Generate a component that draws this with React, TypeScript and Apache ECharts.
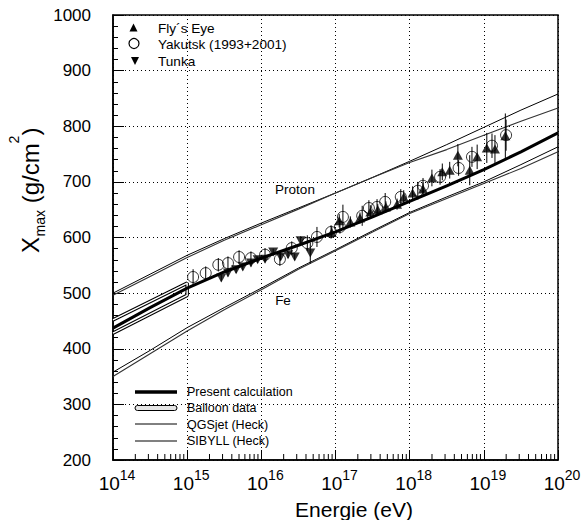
import React, { useEffect, useRef } from "react";
import * as echarts from "echarts";

const FONT = "'Liberation Sans', Arial, Helvetica, sans-serif";

// ---- model curves (x = log10(E/eV), y = Xmax in g/cm^2) ----
const modelLogE = [14, 14.5, 15, 15.5, 16, 16.5, 17, 17.5, 18, 18.5, 19, 19.5, 20];
const presentCalc = [437, 474, 509, 538, 563, 586, 610, 637, 665, 693, 722, 754, 788];
const protonQGSjet = [500, 534, 568, 598, 626, 653, 680, 708, 737, 767, 798, 829, 858];
const protonSIBYLL = [496, 530, 564, 595, 623, 651, 680, 708, 735, 758, 784, 809, 833];
const feQGSjet = [358, 397, 438, 474, 509, 545, 578, 612, 645, 673, 700, 731, 763];
const feSIBYLL = [350, 391, 432, 470, 506, 543, 576, 610, 643, 670, 697, 724, 754];

// ---- balloon data band (outline) ----
const balloonLogE = [14, 15, 15, 14];
const balloonX = [428, 496, 518, 452];

// ---- measurements ----
const flyLogE = [16.95, 17.05, 17.2, 17.33, 17.47, 17.57, 17.68, 17.83, 17.92, 18.04, 18.18, 18.3, 18.44, 18.54, 18.65, 18.81, 18.91, 19.04, 19.15, 19.29];
const flyX = [609, 630, 628, 635, 646, 650, 655, 660, 673, 680, 687, 707, 718, 721, 748, 721, 745, 761, 759, 783];
const flyErr = [10, 12, 10, 10, 12, 10, 10, 10, 12, 12, 12, 15, 15, 15, 20, 27, 22, 27, 25, 40];

const yakLogE = [15.08, 15.25, 15.42, 15.55, 15.7, 15.86, 16.05, 16.25, 16.41, 16.62, 16.75, 16.94, 17.06, 17.1, 17.36, 17.45, 17.56, 17.67, 17.88, 18.11, 18.18, 18.41, 18.66, 18.84, 19.11, 19.3];
const yakX = [529, 536, 551, 554, 565, 563, 569, 561, 581, 590, 601, 610, 619, 637, 639, 653, 655, 664, 673, 684, 693, 709, 725, 745, 765, 784];
const yakErr = [14, 12, 12, 12, 12, 12, 12, 12, 12, 14, 18, 12, 12, 22, 18, 14, 14, 16, 14, 16, 14, 14, 14, 18, 22, 28];

const tunkaLogE = [15.46, 15.55, 15.66, 15.75, 15.86, 15.95, 16.05, 16.16, 16.26, 16.36, 16.45, 16.53, 16.66];
const tunkaX = [527, 536, 542, 547, 554, 560, 561, 574, 565, 569, 565, 594, 572];
const tunkaErr = [6, 6, 6, 6, 6, 6, 6, 6, 6, 6, 6, 8, 19];

// ---- axes ----
const xDecades = [14, 15, 16, 17, 18, 19];
const minorMultipliers = [2, 3, 4, 5, 6, 7, 8, 9];
const yMin = 200;
const yMax = 1000;

const pairs = (xs: number[], ys: number[]) => xs.map((x, i) => [x, ys[i]]);
const errData = (xs: number[], ys: number[], es: number[]) =>
  xs.map((x, i) => [x, ys[i] - es[i], ys[i] + es[i]]);

const errorSeries = (data: number[][]) => ({
  type: "custom",
  data,
  z: 4,
  silent: true,
  encode: { x: 0, y: [1, 2] },
  renderItem: (_p: any, api: any) => {
    const lo = api.coord([api.value(0), api.value(1)]);
    const hi = api.coord([api.value(0), api.value(2)]);
    return {
      type: "line",
      shape: { x1: lo[0], y1: lo[1], x2: hi[0], y2: hi[1] },
      style: { stroke: "#000", lineWidth: 1 },
    };
  },
});

const modelLine = (name: string, ys: number[], color: string, width: number, z = 3) => ({
  type: "line",
  name,
  data: pairs(modelLogE, ys),
  showSymbol: false,
  symbol: "none",
  smooth: false,
  lineStyle: { color, width, join: "round" },
  z,
  silent: true,
});

const legendText = (x: number, y: number, text: string, size: number) => ({
  type: "text",
  x,
  y,
  style: { text, font: `${size}px ${FONT}`, fill: "#000", align: "left", verticalAlign: "middle" },
});

// piece of rotated axis title: local x along text, baseline offset in local y
const titlePiece = (text: string, x: number, baseline: number, size: number) => ({
  type: "text",
  x,
  y: baseline - 0.35 * size,
  style: { text, font: `${size}px ${FONT}`, fill: "#000", align: "left", verticalAlign: "middle" },
});

export default function App() {
  const ref = useRef<HTMLDivElement>(null);

  useEffect(() => {
    if (!ref.current) return;
    const chart = echarts.init(ref.current, undefined, { renderer: "svg" });

    const minorTicks: number[][] = [];
    xDecades.forEach((d) => minorMultipliers.forEach((m) => minorTicks.push([d + Math.log10(m), yMin])));

    const option: any = {
      animation: false,
      backgroundColor: "#fff",
      grid: {
        left: 113,
        right: 26,
        top: 15,
        bottom: 60,
        show: true,
        borderColor: "#000",
        borderWidth: 1.5,
        backgroundColor: "transparent",
      },
      xAxis: {
        type: "value",
        min: 14,
        max: 20,
        interval: 1,
        axisLine: { onZero: false, lineStyle: { color: "#000", width: 1.5 } },
        axisTick: { inside: true, length: 10, lineStyle: { color: "#000", width: 1 } },
        splitLine: { show: true, lineStyle: { color: "#000", width: 1, type: [1, 3] } },
        axisLabel: {
          margin: 8,
          showMinLabel: true,
          showMaxLabel: true,
          formatter: (v: number) => `{p|}{b|10}{s|${v}}`,
          rich: {
            p: { width: 8, lineHeight: 25 },
            b: { fontSize: 19, fontFamily: FONT, color: "#000", lineHeight: 19, verticalAlign: "bottom" },
            s: { fontSize: 14, fontFamily: FONT, color: "#000", lineHeight: 14, verticalAlign: "top" },
          },
        },
      },
      yAxis: {
        type: "value",
        min: yMin,
        max: yMax,
        interval: 100,
        axisLine: { lineStyle: { color: "#000", width: 1.5 } },
        axisTick: { inside: true, length: 11, lineStyle: { color: "#000", width: 1 } },
        minorTick: { show: true, splitNumber: 5, length: 5, lineStyle: { color: "#000", width: 1 } },
        splitLine: { show: true, lineStyle: { color: "#000", width: 1, type: [1, 3] } },
        axisLabel: {
          margin: 22,
          fontSize: 17,
          fontFamily: FONT,
          color: "#000",
          formatter: (v: number) => String(v),
        },
      },
      series: [
        {
          type: "line",
          name: "Balloon data outer",
          data: pairs(balloonLogE, balloonX),
          showSymbol: false,
          symbol: "none",
          lineStyle: { color: "#000", width: 3.5 },
          z: 2,
          silent: true,
        },
        {
          type: "line",
          name: "Balloon data",
          data: pairs(balloonLogE, balloonX),
          showSymbol: false,
          symbol: "none",
          lineStyle: { color: "#fff", width: 1.4 },
          z: 2,
          silent: true,
        },
        modelLine("Present calculation", presentCalc, "#000", 3, 3),
        modelLine("QGSjet proton", protonQGSjet, "#000", 1),
        modelLine("SIBYLL proton", protonSIBYLL, "#333", 1.1),
        modelLine("QGSjet Fe", feQGSjet, "#000", 1),
        modelLine("SIBYLL Fe", feSIBYLL, "#333", 1.1),
        errorSeries(errData(flyLogE, flyX, flyErr)),
        errorSeries(errData(yakLogE, yakX, yakErr)),
        errorSeries(errData(tunkaLogE, tunkaX, tunkaErr)),
        {
          type: "scatter",
          name: "Fly´s Eye",
          data: pairs(flyLogE, flyX),
          symbol: "triangle",
          symbolSize: [10, 9],
          itemStyle: { color: "#000" },
          z: 5,
          silent: true,
        },
        {
          type: "scatter",
          name: "Yakutsk (1993+2001)",
          data: pairs(yakLogE, yakX),
          symbol: "circle",
          symbolSize: 11,
          itemStyle: { color: "rgba(255,255,255,0)", borderColor: "#000", borderWidth: 1 },
          z: 5,
          silent: true,
        },
        {
          type: "scatter",
          name: "Tunka",
          data: pairs(tunkaLogE, tunkaX),
          symbol: "triangle",
          symbolRotate: 180,
          symbolSize: [10, 9],
          itemStyle: { color: "#000" },
          z: 5,
          silent: true,
        },
        {
          type: "custom",
          name: "minor ticks",
          data: minorTicks,
          z: 6,
          silent: true,
          clip: false,
          encode: { x: 0, y: 1 },
          renderItem: (_p: any, api: any) => {
            const p = api.coord([api.value(0), api.value(1)]);
            return {
              type: "line",
              shape: { x1: p[0], y1: p[1], x2: p[0], y2: p[1] - 6 },
              style: { stroke: "#000", lineWidth: 1 },
            };
          },
        },
      ],
      graphic: [
        // top-left legend
        { type: "polygon", shape: { points: [[129.5, 31.5], [137.5, 31.5], [133.5, 23.5]] }, style: { fill: "#000" } },
        { type: "circle", shape: { cx: 134, cy: 43.5, r: 5 }, style: { fill: "none", stroke: "#000", lineWidth: 1.2 } },
        { type: "polygon", shape: { points: [[131, 57], [139, 57], [135, 65]] }, style: { fill: "#000" } },
        legendText(158, 28, "Fly´s Eye", 13.6),
        legendText(158, 44, "Yakutsk (1993+2001)", 13.6),
        legendText(158, 61, "Tunka", 13.6),
        // bottom legend
        { type: "line", shape: { x1: 135, y1: 392, x2: 177, y2: 392 }, style: { stroke: "#000", lineWidth: 3.5 } },
        { type: "rect", shape: { x: 135, y: 405.5, width: 42, height: 5, r: 2.5 }, style: { fill: "#e6e6e6", stroke: "#000", lineWidth: 1 } },
        { type: "line", shape: { x1: 135, y1: 424, x2: 177, y2: 424 }, style: { stroke: "#000", lineWidth: 1 } },
        { type: "line", shape: { x1: 135, y1: 441, x2: 177, y2: 441 }, style: { stroke: "#808080", lineWidth: 2 } },
        legendText(187, 392, "Present calculation", 12.5),
        legendText(187, 408, "Balloon data", 12.5),
        legendText(187, 424.5, "QGSjet (Heck)", 12.5),
        legendText(187, 441, "SIBYLL (Heck)", 12.5),
        // curve labels
        { type: "text", x: 295, y: 189, style: { text: "Proton", font: `13.5px ${FONT}`, fill: "#000", align: "center", verticalAlign: "middle" } },
        { type: "text", x: 283, y: 300, style: { text: "Fe", font: `13.5px ${FONT}`, fill: "#000", align: "center", verticalAlign: "middle" } },
        // axis titles
        { type: "text", x: 354, y: 509, style: { text: "Energie (eV)", font: `21px ${FONT}`, fill: "#000", align: "center", verticalAlign: "middle" } },
        {
          type: "group",
          x: 39,
          y: 253,
          rotation: Math.PI / 2,
          children: [
            titlePiece("X", 0, 0, 24),
            titlePiece("max", 16.5, 6, 14),
            titlePiece(" (g/cm", 43, 0, 24),
            titlePiece("2", 109.5, -20, 14),
            titlePiece(")", 117.5, 0, 24),
          ],
        },
      ],
    };

    chart.setOption(option);
    return () => chart.dispose();
  }, []);

  return <div ref={ref} style={{ position: "absolute", left: 0, top: 0, width: 584, height: 520 }} />;
}
